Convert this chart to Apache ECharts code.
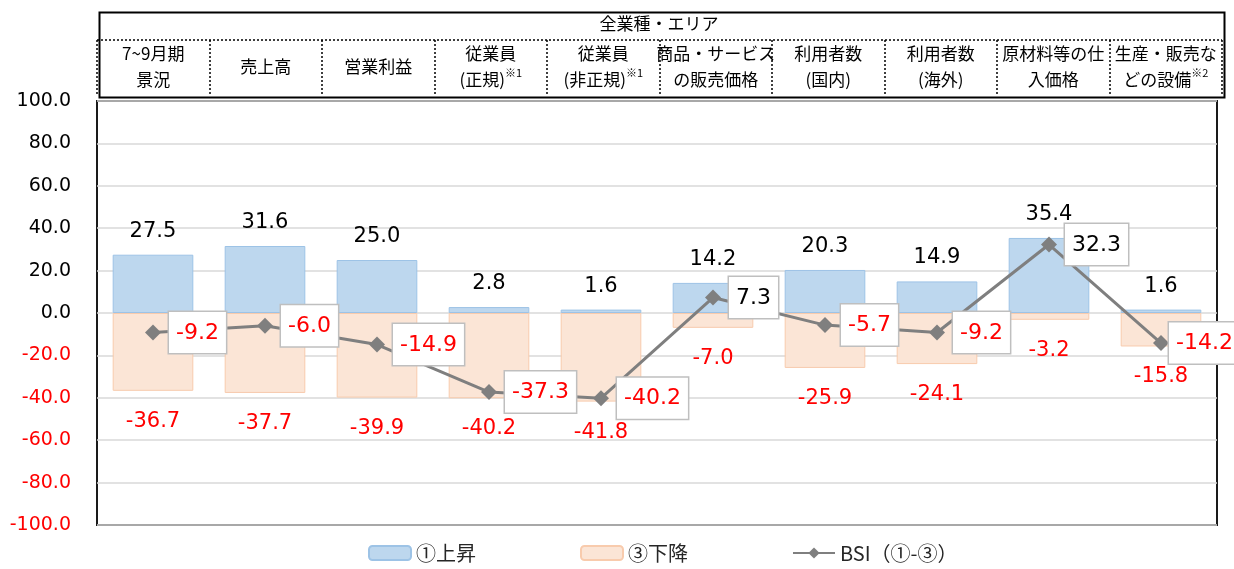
<!DOCTYPE html>
<html>
<head>
<meta charset="utf-8">
<script src="https://cdn.jsdelivr.net/npm/echarts@6/dist/echarts.min.js"></script>
<style>
  html, body { margin: 0; padding: 0; background: #fff; }
  #main { width: 1234px; height: 569px; }
</style>
</head>
<body>
<div id="main"></div>
<script>
// header labels (※ marks become superscripts)
var categories = ['7~9月期\n景況', '売上高', '営業利益', '従業員\n(正規)※1', '従業員\n(非正規)※1',
  '商品・サービス\nの販売価格', '利用者数\n(国内)', '利用者数\n(海外)', '原材料等の仕\n入価格', '生産・販売な\nどの設備※2'];
var headerTitle = '全業種・エリア';
var upValues = [27.5, 31.6, 25.0, 2.8, 1.6, 14.2, 20.3, 14.9, 35.4, 1.6];
var downValues = [-36.7, -37.7, -39.9, -40.2, -41.8, -7.0, -25.9, -24.1, -3.2, -15.8];
var bsiValues = [-9.2, -6.0, -14.9, -37.3, -40.2, 7.3, -5.7, -9.2, 32.3, -14.2];
var legendNames = ['①上昇', '③下降', 'BSI（①-③）'];

var FONT = '"DejaVu Sans", "Noto Sans CJK JP", sans-serif';
var JFONT = '"Noto Sans CJK JP", "DejaVu Sans", sans-serif';

var chart = echarts.init(document.getElementById('main'), null, { renderer: 'canvas' });

// last BSI label sits tight against its marker so it stays inside the page
var bsiData = bsiValues.map(function (v, i) {
  return i === bsiValues.length - 1 ? { value: v, label: { distance: 0 } } : v;
});

var option = {
  animation: false,
  textStyle: { fontFamily: FONT },
  grid: [
    { left: 97, right: 17, top: 101, bottom: 44, show: true, borderColor: '#1a1a1a', borderWidth: 2, containLabel: false },
    { left: 97, right: 12, top: 40, height: 55, show: false }
  ],
  graphic: [
    { type: 'rect', left: 97, top: 10, shape: { width: 1125, height: 85 },
      style: { fill: 'none', stroke: '#000', lineWidth: 2 }, silent: true },
    { type: 'line', shape: { x1: 97, y1: 40, x2: 1222, y2: 40 },
      style: { stroke: '#000', lineWidth: 1.5, lineDash: [2, 2] }, silent: true },
    { type: 'text', x: 659, y: 24,
      style: { text: headerTitle, font: '17px ' + JFONT, fill: '#000', align: 'center', verticalAlign: 'middle' } }
  ],
  legend: {
    bottom: 1,
    left: 363,
    itemGap: 104,
    itemWidth: 42,
    itemHeight: 14,
    textStyle: { fontSize: 20, color: '#262626', fontFamily: JFONT },
    data: legendNames
  },
  xAxis: [
    { type: 'category', gridIndex: 0, data: categories,
      axisLine: { show: false }, axisTick: { show: false }, axisLabel: { show: false } },
    { type: 'category', gridIndex: 1, data: categories, position: 'top',
      axisLine: { show: false }, axisTick: { show: false },
      splitLine: { show: true, lineStyle: { color: '#000', width: 1.5, type: [2, 2] } },
      axisLabel: {
        interval: 0, margin: -27, verticalAlign: 'middle', hideOverlap: false,
        fontSize: 17, lineHeight: 26, color: '#000', fontFamily: JFONT,
        formatter: function (v) { return v.replace(/(※\d)/g, '{s|$1}'); },
        rich: { s: { fontSize: 11, verticalAlign: 'top', lineHeight: 26, padding: [0, 0, 9, 0], fontFamily: JFONT, color: '#000' } }
      } }
  ],
  yAxis: [
    { type: 'value', gridIndex: 0, min: -100, max: 100, interval: 20,
      axisLine: { show: false }, axisTick: { show: false },
      splitLine: { lineStyle: { color: '#d9d9d9', width: 1.5 } },
      axisLabel: {
        margin: 26, fontSize: 19, fontFamily: FONT,
        color: function (v) { return Number(v) < 0 ? '#ff0000' : '#000'; },
        formatter: function (v) { return v.toFixed(1); }
      } },
    { type: 'value', gridIndex: 1, show: false, min: 0, max: 1 }
  ],
  series: [
    { name: legendNames[0], type: 'bar', data: upValues, barWidth: '72%', barGap: '-100%',
      itemStyle: { color: '#bdd7ee', borderColor: '#9dc3e6', borderWidth: 1 },
      label: { show: true, position: 'top', distance: 13, fontSize: 21, color: '#000', fontFamily: FONT,
        formatter: function (p) { return p.value.toFixed(1); } },
      z: 2 },
    { name: legendNames[1], type: 'bar', data: downValues, barWidth: '72%', barGap: '-100%',
      itemStyle: { color: '#fbe5d6', borderColor: '#f8cbad', borderWidth: 1 },
      label: { show: true, position: 'bottom', distance: 20, fontSize: 21, color: '#ff0000', fontFamily: FONT,
        formatter: function (p) { return p.value.toFixed(1); } },
      z: 2 },
    { name: legendNames[2], type: 'line', data: bsiData,
      symbol: 'diamond', symbolSize: 16,
      lineStyle: { color: '#7f7f7f', width: 3 },
      itemStyle: { color: '#7f7f7f' },
      label: { show: true, position: 'right', distance: 8,
        backgroundColor: '#fff', borderColor: '#bfbfbf', borderWidth: 1.5, padding: [10, 7, 9, 7],
        formatter: function (p) { return (p.value < 0 ? '{r|' : '{b|') + p.value.toFixed(1) + '}'; },
        rich: {
          r: { color: '#ff0000', fontSize: 22, fontFamily: FONT },
          b: { color: '#000', fontSize: 22, fontFamily: FONT }
        } },
      z: 5 }
  ]
};

chart.setOption(option);
</script>
</body>
</html>
